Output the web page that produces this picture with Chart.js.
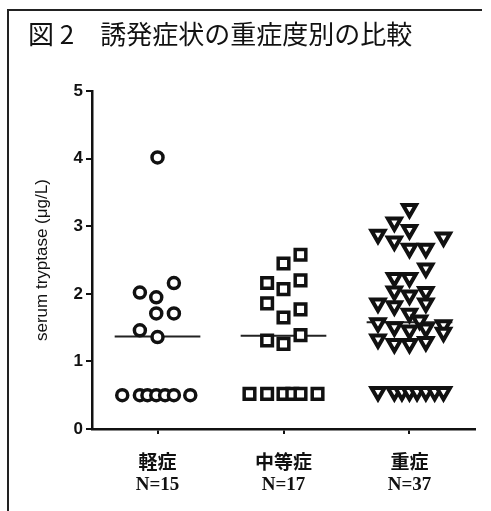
<!DOCTYPE html>
<html>
<head>
<meta charset="utf-8">
<script src="https://cdn.jsdelivr.net/npm/chart.js@4"></script>
<style>
  body { margin: 0; background: #fff; }
</style>
</head>
<body>
<canvas id="chartSeverity" width="491" height="511"></canvas>
<script>
const categories = ["軽症", "中等症", "重症"];
const nLabels = ["N=15", "N=17", "N=37"];
const yTicks = [0, 1, 2, 3, 4, 5];

// serum tryptase values (µg/L)
const mildValues = [4.02, 2.02, 1.95, 2.16, 1.71, 1.71, 1.46, 1.36,
  0.5, 0.5, 0.5, 0.5, 0.5, 0.5, 0.5];
const moderateValues = [2.58, 2.45, 2.16, 2.07, 2.2, 1.86, 1.65, 1.77, 1.31, 1.26, 1.39,
  0.52, 0.52, 0.52, 0.52, 0.52, 0.52];
const severeValues = [3.26, 3.06, 2.95, 2.88, 2.78, 2.67, 2.67, 2.84,
  2.38, 2.24, 2.24,
  2.04, 1.98, 2.03,
  1.86, 1.82, 1.86,
  1.71, 1.61,
  1.57, 1.51, 1.46, 1.49, 1.54, 1.43,
  1.33, 1.26, 1.26, 1.29,
  0.55, 0.55, 0.55, 0.55, 0.55, 0.55, 0.55, 0.55];

// horizontal scatter of each dot around its category (category units)
const mildSpread = [0, -0.14, -0.01, 0.13, -0.01, 0.13, -0.14, 0,
  -0.28, -0.14, -0.08, -0.01, 0.06, 0.13, 0.26];
const moderateSpread = [0.135, 0, -0.13, 0, 0.135, -0.13, 0, 0.135, -0.13, 0, 0.135,
  -0.27, -0.13, 0, 0.07, 0.135, 0.27];
const severeSpread = [0, -0.12, 0, -0.25, -0.12, 0, 0.13, 0.27,
  0.13, -0.12, 0,
  -0.12, 0, 0.13,
  -0.25, -0.12, 0.13,
  0, 0.08,
  -0.25, -0.12, 0, 0.13, 0.27, 0.27,
  -0.25, -0.12, 0, 0.13,
  -0.25, -0.12, -0.06, 0, 0.06, 0.13, 0.2, 0.27];

const medians = [1.37, 1.38, 1.58];

function toPoints(idx, values, spread) {
  return values.map((v, i) => ({ x: idx + spread[i], y: v }));
}

function medianLine(idx) {
  return {
    type: "line",
    data: [
      { x: idx - 0.34, y: medians[idx] },
      { x: idx + 0.34, y: medians[idx] },
    ],
    borderColor: "#222",
    borderWidth: 2,
    pointRadius: 0,
  };
}

const frame = {
  id: "frame",
  beforeDraw(chart) {
    const ctx = chart.ctx;
    ctx.save();
    ctx.strokeStyle = "#222";
    ctx.lineWidth = 2;
    ctx.beginPath();
    ctx.moveTo(8, 511);
    ctx.lineTo(8, 10);
    ctx.lineTo(482, 10);
    ctx.stroke();
    ctx.restore();
  },
};

new Chart(document.getElementById("chartSeverity"), {
  type: "scatter",
  data: {
    datasets: [
      {
        label: categories[0],
        data: toPoints(0, mildValues, mildSpread),
        pointStyle: "circle",
        pointRadius: 5.5,
        borderWidth: 3.5,
        borderColor: "#111",
        backgroundColor: "#fff",
      },
      {
        label: categories[1],
        data: toPoints(1, moderateValues, moderateSpread),
        pointStyle: "rect",
        pointRadius: 7.5,
        borderWidth: 3.5,
        borderColor: "#111",
        backgroundColor: "#fff",
      },
      {
        label: categories[2],
        data: toPoints(2, severeValues, severeSpread),
        pointStyle: "triangle",
        rotation: 180,
        pointRadius: 7.5,
        borderWidth: 4,
        borderColor: "#111",
        backgroundColor: "#fff",
      },
      medianLine(0),
      medianLine(1),
      medianLine(2),
    ],
  },
  options: {
    responsive: false,
    animation: false,
    layout: { padding: { left: 28, right: 16, top: 0, bottom: 0 } },
    plugins: {
      legend: { display: false },
      tooltip: { enabled: false },
      title: {
        display: true,
        text: "図 2　誘発症状の重症度別の比較",
        align: "start",
        color: "#111",
        font: { family: "'Noto Sans CJK JP'", size: 26, weight: "normal", lineHeight: 1.2 },
        padding: { top: 19, bottom: 41 },
      },
    },
    scales: {
      x: {
        type: "linear",
        min: -0.52,
        max: 2.52,
        afterBuildTicks: (scale) => {
          scale.ticks = categories.map((c, i) => ({ value: i }));
        },
        afterFit: (scale) => {
          scale.height = 82;
        },
        ticks: {
          callback: (v) => [categories[v], nLabels[v]],
          color: "#111",
          padding: 20,
          maxRotation: 0,
          font: { family: "'Liberation Serif', 'Noto Sans CJK JP'", size: 19, weight: "bold", lineHeight: 1.1 },
        },
        grid: {
          display: true,
          drawOnChartArea: false,
          drawTicks: true,
          tickLength: 5,
          color: "#111",
          lineWidth: 2,
        },
        border: { color: "#111", width: 2.5 },
      },
      y: {
        min: 0,
        max: 5,
        afterBuildTicks: (scale) => {
          scale.ticks = yTicks.map((v) => ({ value: v }));
        },
        afterFit: (scale) => {
          scale.width = 64;
        },
        title: {
          display: true,
          text: "serum tryptase (μg/L)",
          color: "#111",
          font: { family: "'Liberation Sans'", size: 17 },
          padding: { top: 4, bottom: 0 },
        },
        ticks: {
          color: "#111",
          padding: 3,
          font: { family: "'Liberation Sans'", size: 17, weight: "bold" },
        },
        grid: {
          display: true,
          drawOnChartArea: false,
          drawTicks: true,
          tickLength: 6,
          color: "#111",
          lineWidth: 2,
        },
        border: { color: "#111", width: 2.5 },
      },
    },
  },
  plugins: [frame],
});
</script>
</body>
</html>
